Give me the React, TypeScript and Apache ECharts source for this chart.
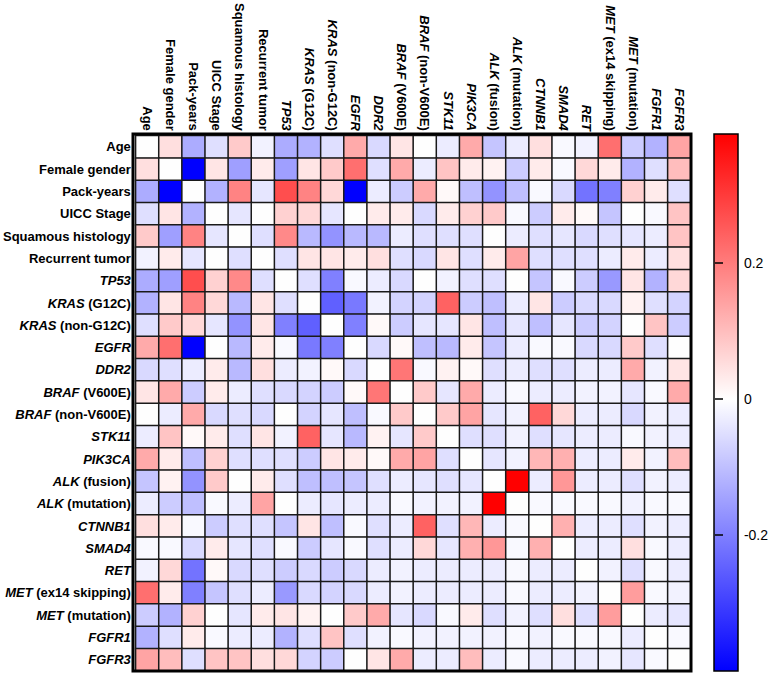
import { useEffect, useRef } from "react";
import * as echarts from "echarts";

const variables = [
  "Age", "Female gender", "Pack-years", "UICC Stage", "Squamous histology", "Recurrent tumor",
  "TP53", "KRAS (G12C)", "KRAS (non-G12C)", "EGFR", "DDR2", "BRAF (V600E)", "BRAF (non-V600E)",
  "STK11", "PIK3CA", "ALK (fusion)", "ALK (mutation)", "CTNNB1", "SMAD4", "RET",
  "MET (ex14 skipping)", "MET (mutation)", "FGFR1", "FGFR3",
];
const geneNames = ["TP53", "KRAS", "EGFR", "DDR2", "BRAF", "STK11", "PIK3CA", "ALK", "CTNNB1", "SMAD4", "RET", "MET", "FGFR1", "FGFR3"];

// lower triangle of the correlation matrix: row i holds columns 0..i-1
const rowAge: number[] = [];
const rowFemale = [0.05];
const rowPackYears = [-0.13, -0.40];
const rowUICC = [-0.05, 0.04, -0.12];
const rowSquamous = [0.08, -0.15, 0.19, -0.04];
const rowRecurrent = [-0.02, 0.03, -0.04, 0.0, -0.05];
const rowTP53 = [-0.13, -0.15, 0.27, 0.07, 0.18, -0.05];
const rowKrasG12C = [-0.12, 0.04, 0.19, 0.06, -0.11, 0.04, -0.05];
const rowKrasNon = [-0.05, 0.08, 0.06, -0.04, -0.17, 0.04, -0.20, -0.25];
const rowEGFR = [0.13, 0.22, -0.40, 0.0, -0.11, 0.03, -0.01, -0.21, -0.20];
const rowDDR2 = [-0.06, -0.05, -0.03, 0.03, -0.11, 0.05, -0.03, -0.02, 0.01, -0.06];
const rowBrafV600E = [0.04, 0.13, -0.08, 0.03, -0.03, -0.05, -0.06, -0.07, -0.08, 0.01, 0.21];
const rowBrafNon = [0.0, -0.03, 0.13, -0.06, -0.05, -0.06, 0.0, -0.07, -0.04, -0.10, -0.01, 0.08];
const rowSTK11 = [-0.03, 0.09, 0.01, 0.03, -0.05, 0.04, -0.02, 0.24, -0.04, -0.11, 0.02, -0.04, 0.08];
const rowPIK3CA = [0.13, 0.03, -0.10, 0.07, -0.05, -0.05, -0.05, -0.08, 0.04, 0.03, 0.01, 0.13, 0.14, -0.05];
const rowAlkFusion = [-0.09, 0.02, -0.17, 0.08, 0.0, 0.03, -0.05, -0.10, -0.10, -0.09, -0.05, -0.03, -0.04, -0.05, -0.04];
const rowAlkMutation = [-0.03, -0.08, -0.10, -0.01, -0.03, 0.14, 0.0, -0.03, -0.04, -0.03, -0.03, -0.01, -0.02, -0.02, -0.02, 0.39];
const rowCTNNB1 = [0.05, 0.03, -0.01, -0.08, -0.05, -0.05, -0.09, 0.04, -0.10, -0.01, -0.05, -0.03, 0.24, -0.05, 0.11, -0.03, -0.01];
const rowSMAD4 = [-0.01, -0.01, -0.06, 0.03, -0.04, -0.05, -0.01, -0.08, -0.04, -0.01, -0.05, -0.03, 0.06, -0.04, 0.12, 0.16, -0.01, 0.12];
const rowRET = [-0.02, 0.06, -0.22, 0.01, -0.06, -0.05, -0.08, -0.06, -0.08, -0.06, -0.03, -0.02, -0.03, -0.03, -0.03, -0.03, -0.01, -0.03, -0.03];
const rowMetEx14 = [0.22, 0.03, -0.20, -0.09, -0.05, -0.03, -0.16, -0.06, -0.07, -0.06, -0.03, -0.02, -0.03, -0.03, -0.03, -0.03, -0.01, -0.03, -0.03, -0.02];
const rowMetMutation = [-0.08, -0.12, 0.07, 0.0, -0.04, 0.03, 0.04, 0.02, 0.0, 0.08, 0.13, -0.04, -0.06, -0.01, 0.03, -0.05, -0.02, -0.05, 0.05, -0.05, 0.15];
const rowFGFR1 = [-0.12, -0.05, 0.03, -0.01, -0.03, -0.03, -0.12, -0.05, 0.09, -0.05, -0.02, -0.01, -0.02, -0.02, -0.02, -0.02, -0.01, -0.02, -0.01, -0.01, -0.01, -0.03];
const rowFGFR3 = [0.14, 0.10, -0.05, 0.09, 0.09, 0.05, 0.06, -0.07, -0.08, 0.0, 0.04, 0.13, -0.03, -0.03, 0.10, -0.03, -0.01, -0.03, -0.03, -0.03, -0.02, -0.04, -0.01];

const lowerTriangle = [
  rowAge, rowFemale, rowPackYears, rowUICC, rowSquamous, rowRecurrent, rowTP53, rowKrasG12C,
  rowKrasNon, rowEGFR, rowDDR2, rowBrafV600E, rowBrafNon, rowSTK11, rowPIK3CA, rowAlkFusion,
  rowAlkMutation, rowCTNNB1, rowSMAD4, rowRET, rowMetEx14, rowMetMutation, rowFGFR1, rowFGFR3,
];

const scaleMin = -0.40;
const scaleMax = 0.39;
const colorbarTicks = [-0.2, 0, 0.2];

// layout
const GL = 133, GT = 134, GW = 558, GH = 537;
const CB_L = 714, CB_W = 24;
const FONT = "'Liberation Sans', Arial, sans-serif";

function valueAt(i: number, j: number) {
  if (i === j) return 0;
  return i > j ? lowerTriangle[i][j] : lowerTriangle[j][i];
}

function buildColors() {
  const n = 120;
  const out: string[] = [];
  for (let k = 0; k <= n; k++) {
    const v = scaleMin + ((scaleMax - scaleMin) * k) / n;
    if (v < 0) {
      const t = v / scaleMin;
      const c = Math.round(255 * (1 - t));
      out.push(`rgb(${c},${c},255)`);
    } else {
      const t = v / scaleMax;
      const c = Math.round(255 * (1 - t));
      out.push(`rgb(255,${c},${c})`);
    }
  }
  return out;
}

function labelFormatter(value: string) {
  const idx = value.indexOf(" ");
  const first = idx < 0 ? value : value.slice(0, idx);
  const rest = idx < 0 ? "" : value.slice(idx);
  if (geneNames.includes(first)) {
    return rest ? `{g|${first}}{n|${rest}}` : `{g|${first}}`;
  }
  return `{n|${value}}`;
}

const richStyles = {
  g: { fontStyle: "italic", fontWeight: "bold", fontSize: 13, fontFamily: FONT, color: "#000" },
  n: { fontWeight: "bold", fontSize: 13, fontFamily: FONT, color: "#000" },
};

export default function App() {
  const ref = useRef<HTMLDivElement>(null);
  useEffect(() => {
    if (!ref.current) return;
    const chart = echarts.init(ref.current, undefined, { renderer: "svg" });
    const data: number[][] = [];
    for (let i = 0; i < variables.length; i++) {
      for (let j = 0; j < variables.length; j++) {
        data.push([j, i, valueAt(i, j)]);
      }
    }
    const zeroOffset = scaleMax / (scaleMax - scaleMin);
    const tickStyle = {
      show: true,
      inside: false,
      length: 4,
      customValues: colorbarTicks,
      lineStyle: { color: "#000", width: 1.5 },
    };
    chart.setOption({
      animation: false,
      backgroundColor: "#fff",
      grid: [
        { left: GL, top: GT, width: GW, height: GH, containLabel: false },
        { left: CB_L, top: GT, width: CB_W, height: GH, containLabel: false },
      ],
      xAxis: [
        {
          type: "category",
          gridIndex: 0,
          data: variables,
          position: "top",
          axisLine: { show: false },
          axisTick: { show: false },
          splitLine: { show: false },
          axisLabel: {
            rotate: 90,
            interval: 0,
            margin: 5,
            formatter: labelFormatter,
            rich: richStyles,
          },
        },
        { type: "value", gridIndex: 1, show: false, min: 0, max: 1 },
      ],
      yAxis: [
        {
          type: "category",
          gridIndex: 0,
          data: variables,
          inverse: true,
          axisLine: { show: false },
          axisTick: { show: false },
          splitLine: { show: false },
          axisLabel: {
            interval: 0,
            margin: 5,
            formatter: labelFormatter,
            rich: richStyles,
          },
        },
        {
          type: "value",
          gridIndex: 1,
          z: 20,
          offset: -5,
          min: scaleMin,
          max: scaleMax,
          position: "right",
          axisLine: { show: false },
          splitLine: { show: false },
          axisTick: tickStyle,
          axisLabel: {
            customValues: colorbarTicks,
            margin: 14,
            fontSize: 14,
            fontFamily: FONT,
            color: "#000",
            formatter: (v: number) => String(Math.round(v * 10) / 10),
          },
        },
        {
          type: "value",
          gridIndex: 1,
          z: 20,
          offset: -5,
          min: scaleMin,
          max: scaleMax,
          position: "left",
          axisLine: { show: false },
          splitLine: { show: false },
          axisLabel: { show: false },
          axisTick: tickStyle,
        },
      ],
      visualMap: {
        type: "continuous",
        show: false,
        min: scaleMin,
        max: scaleMax,
        dimension: 2,
        seriesIndex: 0,
        inRange: { color: buildColors() },
      },
      graphic: [
        {
          type: "rect",
          z: -10,
          shape: { x: CB_L, y: GT, width: CB_W, height: GH },
          style: {
            fill: new echarts.graphic.LinearGradient(0, 0, 0, 1, [
              { offset: 0, color: "#ff0000" },
              { offset: zeroOffset, color: "#ffffff" },
              { offset: 1, color: "#0000ff" },
            ]),
            stroke: "#000",
            lineWidth: 1.5,
          },
        },
        {
          type: "rect",
          z: 100,
          shape: { x: GL, y: GT, width: GW, height: GH },
          style: { fill: "none", stroke: "#000", lineWidth: 3 },
        },
      ],
      series: [
        {
          type: "heatmap",
          xAxisIndex: 0,
          yAxisIndex: 0,
          data,
          itemStyle: { borderColor: "#1a1a1a", borderWidth: 1.5 },
          emphasis: { disabled: true },
        },
      ],
    });
    return () => chart.dispose();
  }, []);
  return (
    <div
      ref={ref}
      style={{ position: "absolute", left: 0, top: 0, width: 771, height: 673, background: "#fff" }}
    />
  );
}
